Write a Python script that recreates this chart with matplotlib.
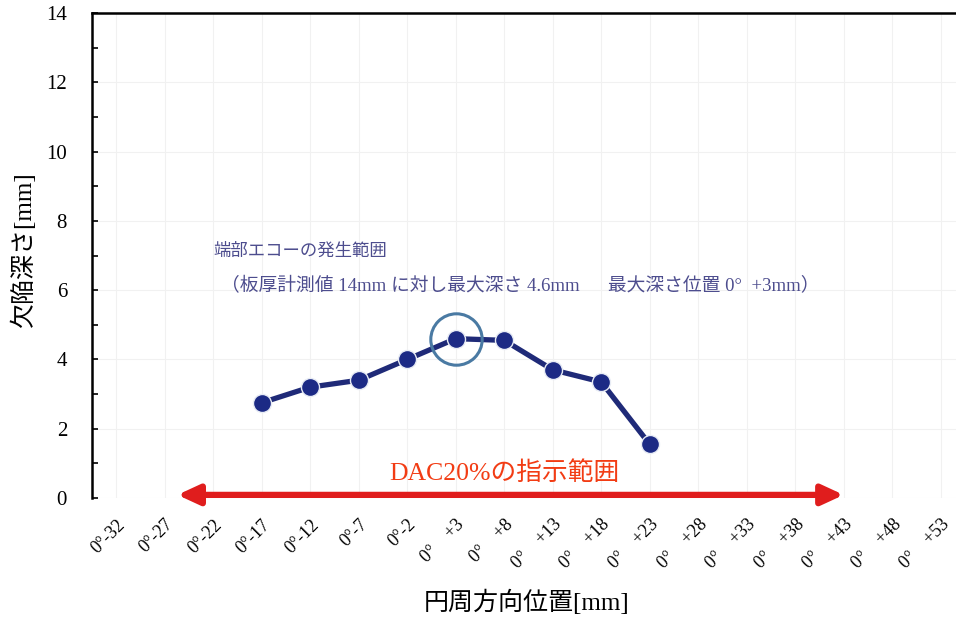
import matplotlib.pyplot as plt

# x categories (circumferential position, mm)
offsets = [-32, -27, -22, -17, -12, -7, -2, 3, 8, 13, 18, 23, 28, 33, 38, 43, 48, 53]
# measured points
meas_offsets = [-17, -12, -7, -2, 3, 8, 13, 18, 23]
depth = [2.75, 3.2, 3.4, 4.0, 4.6, 4.55, 3.7, 3.35, 1.55]
# DAC20% indication range (ends of the red arrow)
dac_from = -25.7
dac_to = 43.0

def fmt(o):
    if o < 0:
        return '0°%d' % o
    return '0°    +%d' % o

tick_labels = [fmt(o) for o in offsets]

serif = ['Liberation Serif', 'Noto Sans CJK JP']
plt.rcParams['font.family'] = serif

fig = plt.figure(figsize=(9.56, 6.22), dpi=100)
ax = fig.add_axes([92 / 956, 1 - 498 / 622, 873 / 956, 485 / 622])

x = list(range(len(offsets)))
xm = [offsets.index(o) for o in meas_offsets]

ax.plot(xm, depth, color='#1f2a78', lw=3.8, marker='o', ms=13,
        markerfacecolor='#1c2a85', markeredgecolor='#e8ecf5', markeredgewidth=1.0, zorder=3)

# highlight maximum
imax = depth.index(max(depth))
ax.plot(xm[imax], depth[imax], 'o', ms=37, markerfacecolor='none',
        markeredgecolor='#4a7aa3', markeredgewidth=2.2, zorder=4)

ax.set_xlim(-0.5, len(offsets) - 0.5)
ax.set_ylim(0, 14)
ax.set_yticks(range(0, 15, 2))
ax.set_yticks(range(0, 15), minor=True)
ax.set_xticks(x)
ax.set_xticklabels(tick_labels, rotation=45, ha='right', rotation_mode='anchor', fontsize=13)
ax.tick_params(axis='x', length=0, pad=13)
ax.tick_params(axis='y', which='both', direction='in', length=4, width=1.2, labelsize=15, pad=18)

ax.grid(True, color='#f1f1f1', lw=0.8)
ax.set_axisbelow(True)

for s in ['bottom', 'right']:
    ax.spines[s].set_visible(False)
for s in ['left', 'top']:
    ax.spines[s].set_linewidth(1.8)

ax.set_ylabel('欠陥深さ[mm]', fontsize=18)
ax.yaxis.set_label_coords(-(92 - 36) / 873, (498 - 250) / 485)
ax.set_xlabel('円周方向位置[mm]', fontsize=18)
ax.xaxis.set_label_coords((527 - 92) / 873, -(590 - 498) / 485)

# arrow for DAC20% range
xa = offsets.index(-22) + (dac_from + 22) / 5
xb = offsets.index(43) + (dac_to - 43) / 5
ax.annotate('', xy=(xb, 0.09), xytext=(xa, 0.09), annotation_clip=False,
            arrowprops=dict(arrowstyle='<|-|>,head_length=1.3,head_width=0.6',
                            color='#e01d1d', lw=4.5, shrinkA=0, shrinkB=0))
ax.text(8.0, 0.72, 'DAC20%の指示範囲', color='#f23c14', fontsize=18.5,
        ha='center', va='center')

ax.text(2.0, 7.1, '端部エコーの発生範囲', color='#4d4d8e', fontsize=12.5,
        ha='left', va='center')
ax.text(2.15, 6.1, '（板厚計測値 14mm に対し最大深さ 4.6mm　  最大深さ位置 0°  +3mm）',
        color='#4d4d8e', fontsize=13.5, ha='left', va='center')

fig.savefig('out.png', dpi=100)
